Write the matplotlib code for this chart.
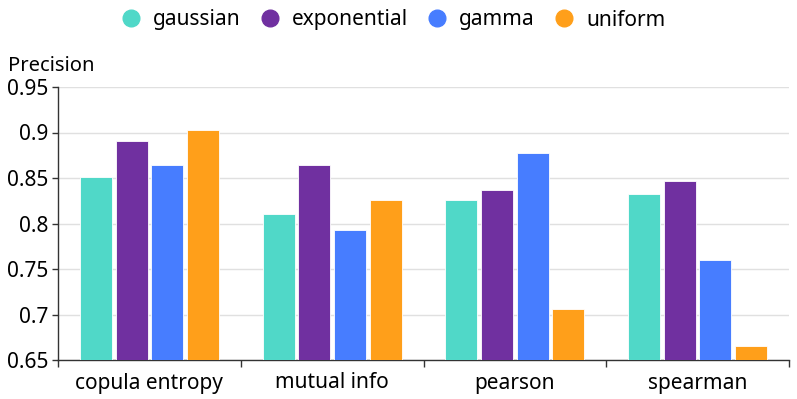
import numpy as np
import matplotlib
matplotlib.use("Agg")
from matplotlib import pyplot as plt
from matplotlib.lines import Line2D

plt.rcParams['font.family'] = ['Noto Sans', 'DejaVu Sans']

methods = ['copula entropy', 'mutual info', 'pearson', 'spearman']
series = ['gaussian', 'exponential', 'gamma', 'uniform']
gaussian = [0.851, 0.810, 0.826, 0.832]
exponential = [0.891, 0.864, 0.837, 0.847]
gamma = [0.864, 0.793, 0.878, 0.760]
uniform = [0.903, 0.826, 0.706, 0.665]
colors = ['#50d8c8', '#7030a0', '#477dff', '#ff9f1a']

values = [gaussian, exponential, gamma, uniform]

fig = plt.figure(figsize=(7.97, 3.99), dpi=100)
ax = fig.add_axes([58/797, 1 - 360/399, 731/797, 273/399])

x = np.arange(len(methods))
w = 0.175
step = 0.195
for i, (name, vals) in enumerate(zip(series, values)):
    ax.bar(x + (i - 1.5) * step, vals, w, color=colors[i], edgecolor='white',
           linewidth=0.6, zorder=3, label=name)

ax.set_ylim(0.65, 0.95)
ax.set_xlim(-0.5, 3.5)
yt = [0.65, 0.7, 0.75, 0.8, 0.85, 0.9, 0.95]
ax.set_yticks(yt)
ax.set_yticklabels(['0.65', '0.7', '0.75', '0.8', '0.85', '0.9', '0.95'], fontsize=15)
ax.set_xticks(x)
ax.set_xticklabels(methods, fontsize=15)
ax.set_xticks(np.arange(-0.5, 4, 1), minor=True)
ax.tick_params(axis='x', which='major', length=0, pad=9)
ax.tick_params(axis='x', which='minor', length=5, color='#333333', width=1)
ax.tick_params(axis='y', length=4, color='#333333', width=1, pad=3)
ax.grid(axis='y', color='#e0e0e0', linewidth=1, zorder=0)
for s in ['top', 'right']:
    ax.spines[s].set_visible(False)
for s in ['left', 'bottom']:
    ax.spines[s].set_color('#333333')
    ax.spines[s].set_linewidth(1)

fig.text(8/797, 1 - 66/399, 'Precision', fontsize=14.5, va='center', ha='left')

handles = [Line2D([0], [0], marker='o', linestyle='', markersize=12,
                  markerfacecolor=c, markeredgecolor=c) for c in colors]
fig.legend(handles, series, loc='center', bbox_to_anchor=(392/797, 1 - 20/399),
           ncol=4, frameon=False, fontsize=15, handletextpad=0.45,
           columnspacing=0.8, handlelength=1.2)

fig.savefig('out.png', dpi=100)
